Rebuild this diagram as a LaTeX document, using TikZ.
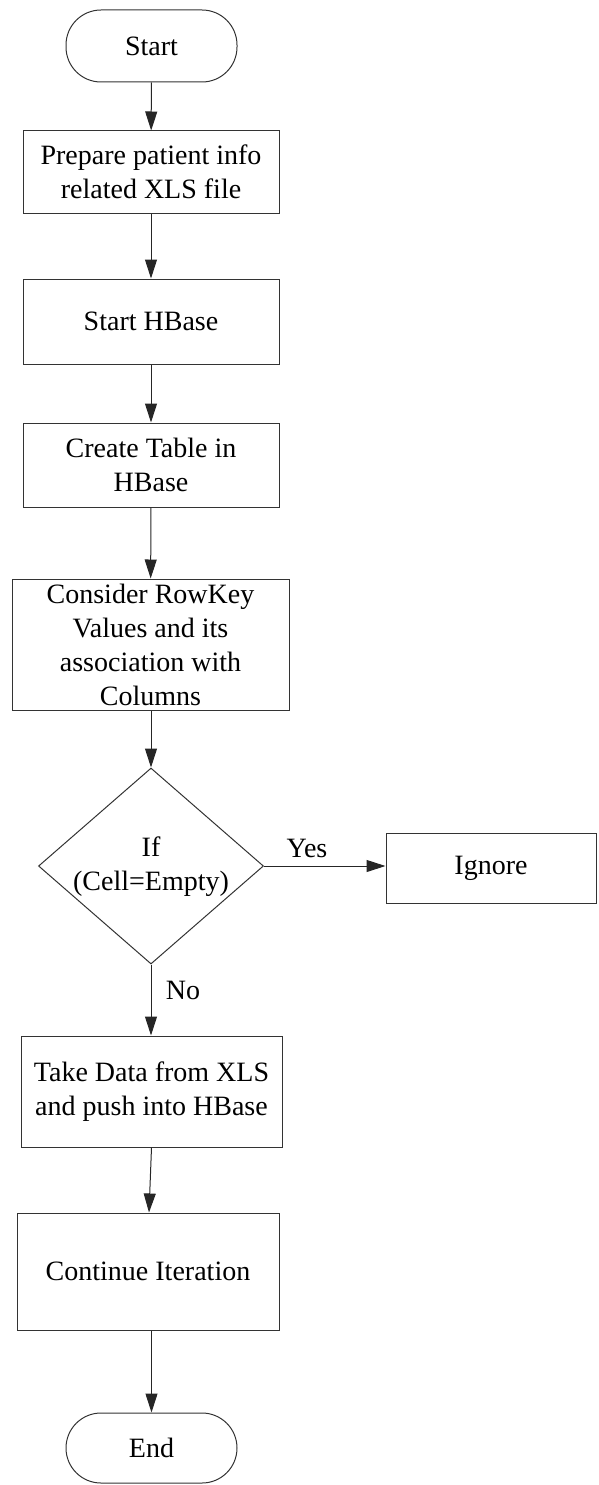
\documentclass[tikz,border=0pt]{standalone}
\usepackage{fontspec}
\setmainfont{Liberation Serif}
\usetikzlibrary{arrows.meta,shapes.geometric}
\begin{document}
\begin{tikzpicture}[x=1pt,y=-1pt,
  every node/.style={font=\fontsize{28}{34}\selectfont, align=center, inner sep=0pt},
  procbox/.style={draw=black!80, line width=1pt, rectangle},
  termbox/.style={draw=black!80, line width=1pt, rectangle, rounded corners=35pt, minimum width=171pt, minimum height=72pt},
  decbox/.style={draw=black!80, line width=1pt, diamond, minimum width=225pt, minimum height=196pt},
  flow/.style={draw=black!85, line width=1pt, -{Triangle[length=19pt,width=12pt]}},
  lbl/.style={font=\fontsize{28}{34}\selectfont}
]
\useasboundingbox (0,0) rectangle (599,1485);
\node[termbox] (start) at (151.5,46) {Start};
\node[procbox, minimum width=256pt, minimum height=82pt] (b1) at (151,172) {Prepare patient info\\related XLS file};
\node[procbox, minimum width=256pt, minimum height=85pt] (b2) at (151,321.5) {Start HBase};
\node[procbox, minimum width=256pt, minimum height=84pt] (b3) at (151,465) {Create Table in\\HBase};
\node[procbox, minimum width=277pt, minimum height=131pt] (b4) at (150.5,644.5) {Consider RowKey\\Values and its\\association with\\Columns};
\node[decbox] (dia) at (151,866) {};
\node (diatxt) at (151,867) {If\\(Cell=Empty)};
\node[procbox, minimum width=210pt, minimum height=70pt] (ign) at (491,868) {Ignore};
\node[procbox, minimum width=261pt, minimum height=111pt] (take) at (151.5,1091.5) {Take Data from XLS\\and push into HBase};
\node[procbox, minimum width=262pt, minimum height=117pt] (cont) at (148,1271.5) {Continue Iteration};
\node[termbox, minimum height=70pt] (end) at (151.5,1448) {End};
\node[lbl] (yes) at (307,848) {Yes};
\node[lbl] (no) at (183,990) {No};
\draw[flow] (start) -- (b1);
\draw[flow] (b1) -- (b2);
\draw[flow] (b2) -- (b3);
\draw[flow] (b3) -- (b4);
\draw[flow] (b4.south -| dia.north) -- (dia.north);
\draw[flow] (dia.east) -- (dia.east -| ign.west);
\draw[flow] (dia.south) -- (dia.south |- take.north);
\draw[flow] (take.south) -- ([xshift=1pt]cont.north);
\draw[flow] (cont.south -| end.north) -- (end.north);
\end{tikzpicture}
\end{document}
